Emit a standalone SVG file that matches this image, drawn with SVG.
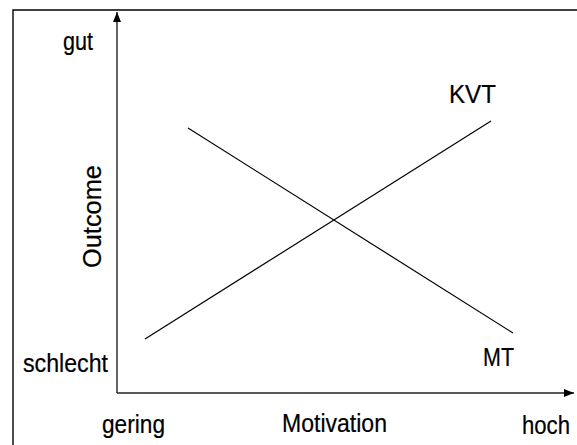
<svg xmlns="http://www.w3.org/2000/svg" width="577" height="445" viewBox="0 0 577 445">
<style>
text{font-family:"Liberation Sans",Arial,sans-serif;font-size:25px;fill:#000;stroke:#000;stroke-width:0.2}
.ax{stroke:#222;stroke-width:1.4;fill:none}
.ln{stroke:#000;stroke-width:1.2;fill:none}
</style>
<defs>
<marker id="ah" viewBox="0 0 10 10" refX="10" refY="5" markerWidth="10" markerHeight="10" markerUnits="userSpaceOnUse" orient="auto">
<path d="M0,1 L10,5 L0,9 Z" fill="#000"/>
</marker>
</defs>
<rect width="577" height="445" fill="#fff"/>
<path d="M13,445 V10 H577" stroke="#000" stroke-width="1.4" fill="none"/>
<g id="connectors">
<line class="ax" x1="117" y1="393" x2="117" y2="12" marker-end="url(#ah)"/>
<line class="ax" x1="117" y1="393" x2="574" y2="393" marker-end="url(#ah)"/>
<line id="MT-line" class="ln" x1="188" y1="128" x2="513" y2="333"/>
<line id="KVT-line" class="ln" x1="145" y1="339" x2="491" y2="121"/>
</g>
<g id="labels">
<text x="63" y="50" textLength="30" lengthAdjust="spacingAndGlyphs">gut</text>
<text x="23" y="372" textLength="85" lengthAdjust="spacingAndGlyphs">schlecht</text>
<text x="102" y="433" textLength="63" lengthAdjust="spacingAndGlyphs">gering</text>
<text x="282" y="432" textLength="105" lengthAdjust="spacingAndGlyphs">Motivation</text>
<text x="522" y="434" textLength="48" lengthAdjust="spacingAndGlyphs">hoch</text>
<text x="449" y="103" textLength="47" lengthAdjust="spacingAndGlyphs">KVT</text>
<text x="483" y="366" textLength="31" lengthAdjust="spacingAndGlyphs">MT</text>
<text transform="translate(101,268) rotate(-90)" textLength="103" lengthAdjust="spacingAndGlyphs">Outcome</text>
</g>
</svg>
